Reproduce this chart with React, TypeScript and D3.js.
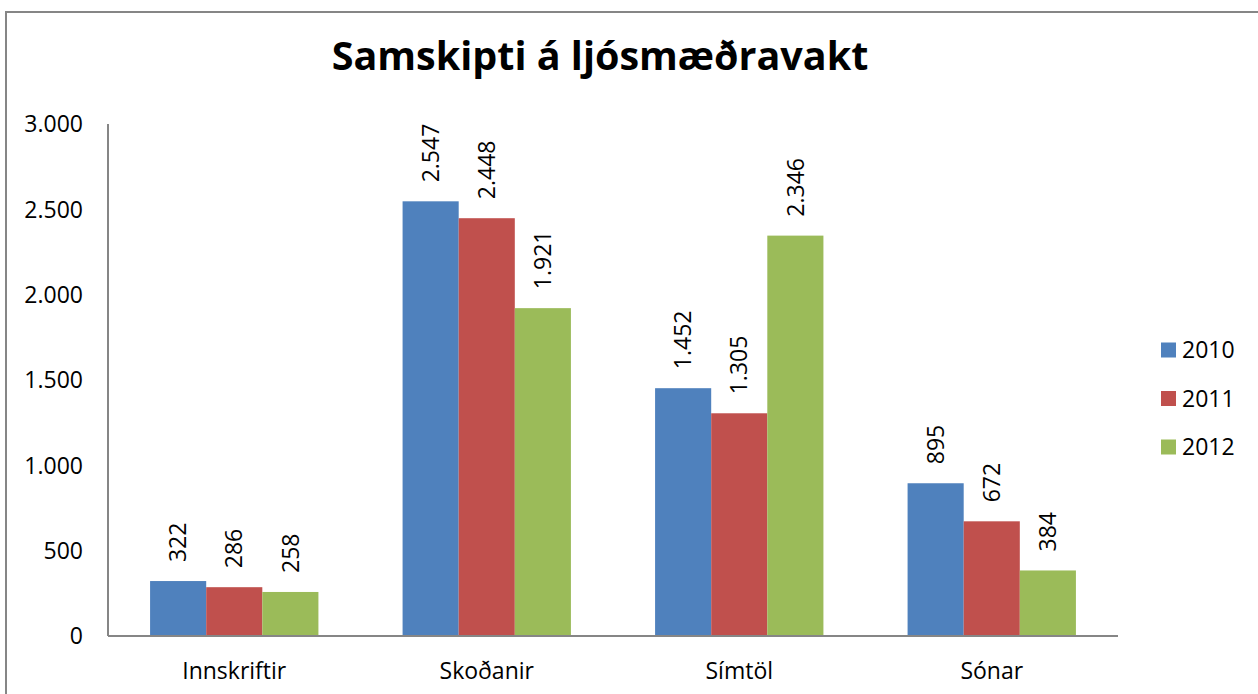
import * as d3 from "d3";

const categories = ["Innskriftir", "Skoðanir", "Símtöl", "Sónar"];
const years = ["2010", "2011", "2012"];
const values2010 = [322, 2547, 1452, 895];
const values2011 = [286, 2448, 1305, 672];
const values2012 = [258, 1921, 2346, 384];
const yTicks = [0, 500, 1000, 1500, 2000, 2500, 3000];
const colors = ["#4F81BD", "#C0504D", "#9BBB59"];

const series = [values2010, values2011, values2012];
const fmt = (v: number) => d3.format(",")(v).replace(/,/g, ".");

const W = 1258;
const H = 694;
const plot = { left: 108, right: 1118, top: 124, bottom: 636 };
const font = "'Open Sans', 'Liberation Sans', sans-serif";
const fs = 23;

const App = () => {
  const x0 = d3
    .scaleBand()
    .domain(categories)
    .range([plot.left, plot.right])
    .paddingInner(1 / 3)
    .paddingOuter(1 / 6);

  const x1 = d3.scaleBand().domain(years).range([0, x0.bandwidth()]).padding(0);

  const y = d3.scaleLinear().domain([0, 3000]).range([plot.bottom, plot.top]);

  return (
    <svg
      width={W}
      height={H}
      style={{ position: "absolute", left: 0, top: 0, background: "#fff" }}
      fontFamily={font}
    >
      <rect x={6} y={12} width={W + 20} height={H + 20} fill="#fff" stroke="#868686" strokeWidth={2} />

      <text x={600} y={70} textAnchor="middle" fontSize={39.5} fontWeight="bold" fill="#000">
        Samskipti á ljósmæðravakt
      </text>

      {yTicks.map((t) => (
        <text key={t} x={83} y={y(t) + fs * 0.357} textAnchor="end" fontSize={fs} fill="#000">
          {fmt(t)}
        </text>
      ))}

      {categories.map((c, i) => (
        <g key={c}>
          {series.map((vals, j) => {
            const bx = (x0(c) ?? 0) + (x1(years[j]) ?? 0);
            const bw = x1.bandwidth();
            const top = y(vals[i]);
            const cx = bx + bw / 2;
            const ly = top - 19;
            return (
              <g key={years[j]}>
                <rect x={bx} y={top} width={bw} height={plot.bottom - top} fill={colors[j]} />
                <text
                  x={cx + fs * 0.357}
                  y={ly}
                  transform={`rotate(-90, ${cx + fs * 0.357}, ${ly})`}
                  fontSize={fs}
                  fill="#000"
                >
                  {fmt(vals[i])}
                </text>
              </g>
            );
          })}
          <text
            x={(x0(c) ?? 0) + x0.bandwidth() / 2}
            y={679}
            textAnchor="middle"
            fontSize={fs}
            fill="#000"
          >
            {c}
          </text>
        </g>
      ))}

      <line x1={plot.left} x2={plot.left} y1={plot.top} y2={plot.bottom} stroke="#868686" strokeWidth={2} />
      <line x1={plot.left} x2={plot.right} y1={plot.bottom} y2={plot.bottom} stroke="#868686" strokeWidth={2} />

      {years.map((yr, j) => {
        const cy = 350 + j * 48.5;
        return (
          <g key={yr}>
            <rect x={1161} y={cy - 7.5} width={15} height={15} fill={colors[j]} />
            <text x={1182} y={cy + fs * 0.357} fontSize={fs} fill="#000">
              {yr}
            </text>
          </g>
        );
      })}
    </svg>
  );
};

export default App;
